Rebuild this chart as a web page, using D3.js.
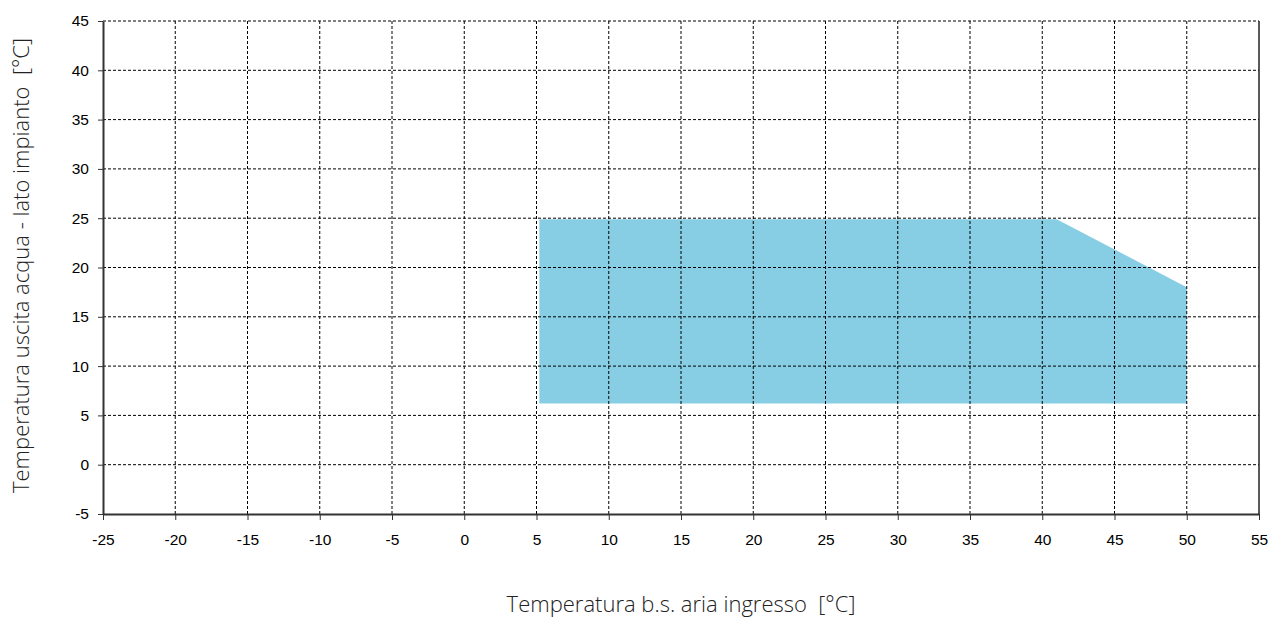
<!DOCTYPE html>
<html><head><meta charset="utf-8">
<script src="https://cdn.jsdelivr.net/npm/d3@7"></script>
<style>body{margin:0;background:#fff} text{white-space:pre}</style>
</head><body>
<svg id="c" width="1272" height="617"></svg>
<script>
const xTicks = [-25,-20,-15,-10,-5,0,5,10,15,20,25,30,35,40,45,50,55];
const yTicks = [-5,0,5,10,15,20,25,30,35,40,45];
const envX = [5.2, 41, 50, 50, 5.2];
const envY = [24.9, 24.9, 18, 6.2, 6.2];
const xTitle = "Temperatura b.s. aria ingresso  [°C]";
const yTitle = "Temperatura uscita acqua - lato impianto  [°C]";

const svg = d3.select("#c");
const L=103, R=1259, T=21, B=514;
const x = d3.scaleLinear().domain([-25,55]).range([L,R]);
const y = d3.scaleLinear().domain([-5,45]).range([B,T]);
const fmt = d => String(d);

// envelope
const pts = envX.map((v,i)=>[x(v), y(envY[i])]);
svg.append("path").attr("d", d3.line()(pts)+"Z").attr("fill","#87cee4");

// grid
svg.append("g").selectAll("line").data(xTicks.slice(1,-1)).join("line")
  .attr("x1",d=>x(d)).attr("x2",d=>x(d)).attr("y1",T).attr("y2",B)
  .attr("stroke","#000").attr("stroke-width",1).attr("stroke-dasharray","3,2");
svg.append("g").selectAll("line").data(yTicks.slice(1)).join("line")
  .attr("x1",L).attr("x2",R).attr("y1",d=>y(d)).attr("y2",d=>y(d))
  .attr("stroke","#000").attr("stroke-width",1).attr("stroke-dasharray","3,2");

// axes
const xa = svg.append("g").attr("transform",`translate(0,${B})`)
  .call(d3.axisBottom(x).tickValues(xTicks).tickFormat(fmt).tickSize(6).tickSizeOuter(0).tickPadding(14));
const ya = svg.append("g").attr("transform",`translate(${L},0)`)
  .call(d3.axisLeft(y).tickValues(yTicks).tickFormat(fmt).tickSize(5).tickSizeOuter(0).tickPadding(9));
[xa,ya].forEach(a=>{
  a.select(".domain").attr("stroke","#333").attr("stroke-width",2);
  a.selectAll(".tick line").attr("stroke","#333");
  a.selectAll("text").attr("font-family","Liberation Sans, Arial, sans-serif").attr("font-size",15.5).attr("fill","#000");
});
svg.append("line").attr("x1",R).attr("x2",R).attr("y1",T).attr("y2",B).attr("stroke","#222").attr("stroke-width",1.5);

svg.append("text").attr("x",(L+R)/2).attr("y",612).attr("text-anchor","middle")
  .attr("font-family","Open Sans, sans-serif").attr("font-weight",300).attr("font-size",22).attr("fill","#222").text(xTitle);
svg.append("text").attr("transform",`translate(29,${(T+B)/2 - 2}) rotate(-90)`).attr("text-anchor","middle")
  .attr("font-family","Open Sans, sans-serif").attr("font-weight",300).attr("font-size",22).attr("fill","#222").text(yTitle);
</script>
</body></html>
